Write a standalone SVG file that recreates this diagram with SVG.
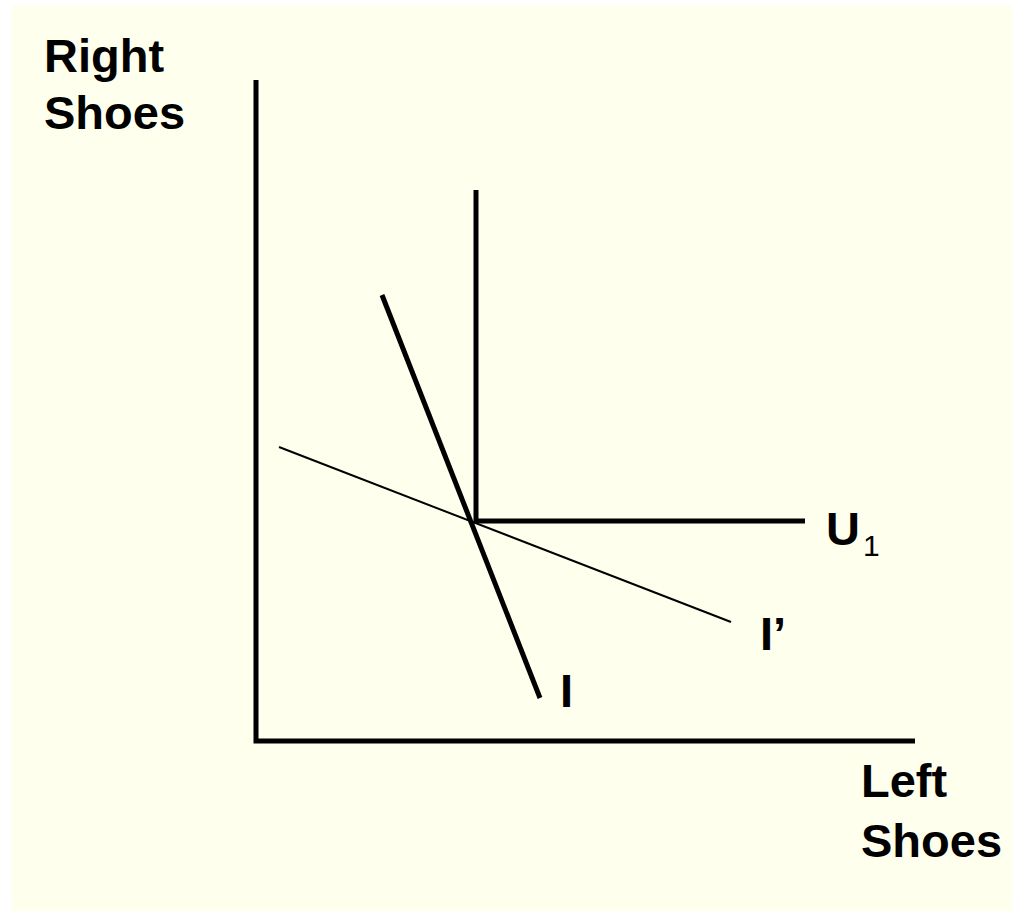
<svg xmlns="http://www.w3.org/2000/svg" width="1012" height="911" viewBox="0 0 1012 911">
<style>
.lbl{font-family:"Liberation Sans",Arial,sans-serif;font-weight:bold;font-size:47px;fill:#000}
.sub{font-size:30px;font-weight:normal}
.thick{stroke:#000;stroke-width:5;fill:none}
.thin{stroke:#000;stroke-width:2;fill:none}
</style>
<rect x="0" y="0" width="1012" height="911" fill="#fff"/>
<rect x="12" y="5" width="1000" height="906" fill="#FFFFEE"/>
<g id="axes">
<path class="thick" d="M256,80 V741 H915"/>
</g>
<g id="connectors">
<path id="U1-curve" class="thick" d="M476,190 V521 H805"/>
<line id="I-line" class="thick" x1="382" y1="295" x2="540" y2="698"/>
<line id="Iprime-line" class="thin" x1="279" y1="447" x2="731" y2="622"/>
</g>
<g id="label-y"><text class="lbl" x="44" y="72">Right</text><text class="lbl" x="44" y="129">Shoes</text></g>
<g id="label-x"><text class="lbl" x="861" y="797">Left</text><text class="lbl" x="861" y="857">Shoes</text></g>
<g id="label-U1"><text class="lbl" x="826" y="545">U<tspan class="sub" dy="11" dx="3">1</tspan></text></g>
<g id="label-Iprime"><text class="lbl" x="760" y="650">I’</text></g>
<g id="label-I"><text class="lbl" x="560" y="707">I</text></g>
</svg>
